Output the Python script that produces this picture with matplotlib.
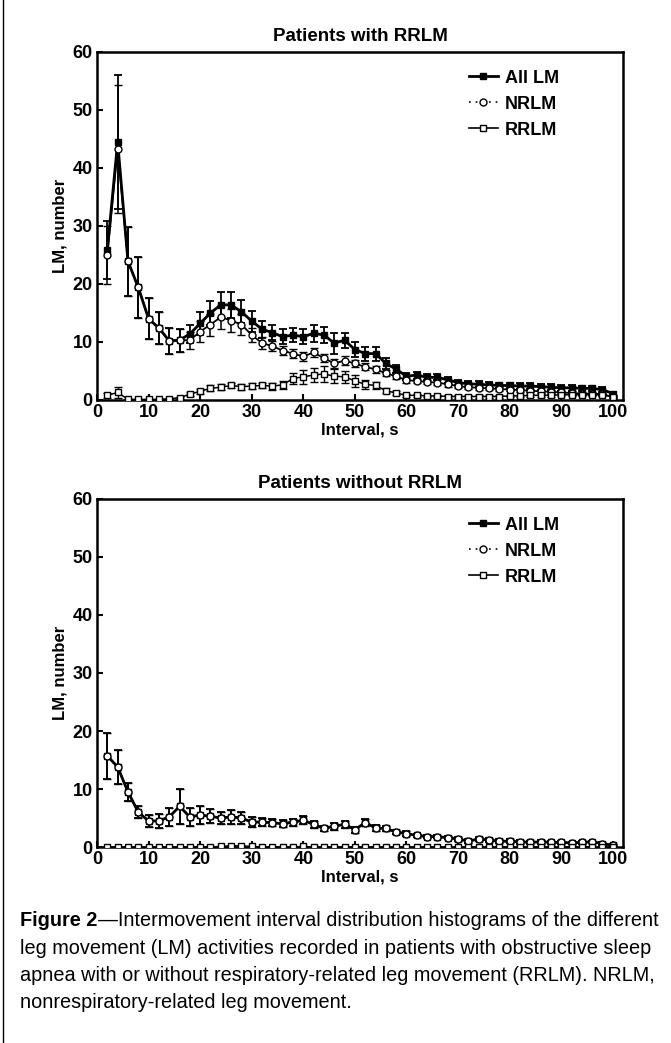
import matplotlib.pyplot as plt
from matplotlib.lines import Line2D

# intervals (2-s bins)
interval = list(range(2, 101, 2))

# Patients with RRLM
all_top = [25.9, 44.5, 23.9, 19.4, 14.0, 12.4, 10.2, 10.3, 11.4, 13.2,
           15.0, 16.4, 16.4, 15.2, 13.6, 12.2, 11.6, 10.9, 11.2, 10.9,
           11.5, 11.2, 9.8, 10.3, 8.7, 8.0, 8.0, 6.3, 5.3, 4.1,
           4.3, 3.9, 3.9, 3.5, 3.0, 2.8, 2.7, 2.6, 2.5, 2.5,
           2.4, 2.4, 2.3, 2.2, 2.1, 2.1, 2.0, 2.0, 1.8, 1.1]
all_top_err = [5.0, 11.5, 6.0, 5.3, 3.5, 2.8, 2.2, 2.0, 1.6, 2.0,
               2.1, 2.3, 2.3, 2.0, 1.8, 1.5, 1.3, 1.3, 1.2, 1.3,
               1.5, 1.4, 1.8, 1.3, 1.3, 1.2, 1.2, 0.9, 0.7, 0.6,
               0.6, 0.5, 0.5, 0.5, 0.5, 0.5, 0.5, 0.5, 0.5, 0.5,
               0.5, 0.5, 0.5, 0.5, 0.5, 0.5, 0.4, 0.4, 0.4, 0.3]
nrlm_top = [25.0, 43.3, 23.9, 19.4, 14.0, 12.4, 10.2, 10.3, 10.3, 11.8,
            13.0, 14.3, 13.7, 13.0, 11.2, 9.8, 9.3, 8.5, 8.0, 7.5,
            8.2, 7.2, 6.3, 6.8, 6.3, 5.7, 5.3, 4.6, 4.1, 3.4,
            3.3, 3.1, 3.0, 2.7, 2.4, 2.2, 2.1, 2.0, 1.9, 1.8,
            1.7, 1.6, 1.5, 1.4, 1.3, 1.2, 1.1, 1.1, 1.0, 0.5]
nrlm_top_err = [5.0, 11.0, 6.0, 5.3, 3.5, 2.8, 2.2, 2.0, 1.5, 1.8,
                1.9, 2.1, 2.0, 1.8, 1.2, 1.0, 0.9, 0.8, 0.8, 0.7,
                0.8, 0.7, 0.7, 0.7, 0.6, 0.6, 0.6, 0.5, 0.5, 0.4,
                0.4, 0.4, 0.4, 0.4, 0.4, 0.3, 0.3, 0.3, 0.3, 0.3,
                0.3, 0.3, 0.3, 0.3, 0.3, 0.3, 0.3, 0.3, 0.3, 0.2]
rrlm_top = [0.8, 1.3, 0.1, 0.1, 0.1, 0.1, 0.2, 0.4, 1.0, 1.5,
            2.0, 2.2, 2.5, 2.3, 2.4, 2.5, 2.4, 2.6, 3.7, 4.0,
            4.3, 4.5, 4.1, 4.0, 3.3, 2.7, 2.5, 1.6, 1.2, 0.8,
            0.8, 0.7, 0.7, 0.6, 0.6, 0.6, 0.6, 0.6, 0.6, 0.7,
            0.7, 0.8, 0.8, 0.8, 0.9, 0.9, 0.9, 0.9, 0.9, 0.6]
rrlm_top_err = [0.4, 1.0, 0.1, 0.1, 0.1, 0.1, 0.1, 0.2, 0.3, 0.4,
                0.5, 0.5, 0.5, 0.5, 0.5, 0.5, 0.6, 0.7, 1.0, 1.2,
                1.2, 1.4, 1.2, 1.0, 1.0, 0.8, 0.6, 0.4, 0.3, 0.2,
                0.2, 0.2, 0.2, 0.2, 0.2, 0.2, 0.2, 0.2, 0.2, 0.2,
                0.2, 0.2, 0.2, 0.2, 0.2, 0.2, 0.2, 0.2, 0.2, 0.2]

# Patients without RRLM
all_bot = [15.7, 13.8, 9.5, 6.0, 4.5, 4.5, 5.2, 7.0, 5.2, 5.5,
           5.3, 5.0, 5.2, 5.0, 4.3, 4.3, 4.2, 4.0, 4.3, 4.6,
           3.9, 3.2, 3.6, 3.9, 3.0, 4.2, 3.3, 3.2, 2.6, 2.3,
           2.0, 1.8, 1.8, 1.6, 1.4, 1.0, 1.4, 1.2, 1.0, 1.0,
           0.9, 0.8, 0.9, 0.8, 0.8, 0.7, 0.8, 0.9, 0.6, 0.3]
all_bot_err = [4.0, 3.0, 1.5, 1.0, 1.0, 1.2, 1.5, 3.0, 1.5, 1.5,
               1.2, 1.0, 1.2, 1.0, 0.8, 0.7, 0.6, 0.6, 0.6, 0.7,
               0.6, 0.5, 0.6, 0.6, 0.5, 0.6, 0.5, 0.5, 0.4, 0.4,
               0.3, 0.3, 0.3, 0.3, 0.3, 0.3, 0.3, 0.3, 0.3, 0.3,
               0.3, 0.3, 0.3, 0.3, 0.3, 0.2, 0.2, 0.2, 0.2, 0.2]
nrlm_bot = [15.7, 13.8, 9.5, 6.0, 4.5, 4.5, 5.2, 7.0, 5.2, 5.5,
            5.3, 5.0, 5.2, 5.0, 4.3, 4.3, 4.2, 4.0, 4.3, 4.6,
            3.9, 3.2, 3.6, 3.9, 3.0, 4.2, 3.3, 3.2, 2.6, 2.3,
            2.0, 1.8, 1.8, 1.6, 1.4, 1.0, 1.4, 1.2, 1.0, 1.0,
            0.9, 0.8, 0.9, 0.8, 0.8, 0.7, 0.8, 0.9, 0.6, 0.3]
rrlm_bot = [0.0, 0.0, 0.0, 0.0, 0.0, 0.0, 0.0, 0.0, 0.0, 0.0,
            0.0, 0.1, 0.2, 0.2, 0.1, 0.0, 0.0, 0.0, 0.0, 0.1,
            0.0, 0.0, 0.0, 0.0, 0.0, 0.0, 0.0, 0.0, 0.0, 0.0,
            0.0, 0.0, 0.0, 0.0, 0.0, 0.0, 0.0, 0.0, 0.0, 0.0,
            0.0, 0.0, 0.0, 0.0, 0.0, 0.0, 0.0, 0.0, 0.0, 0.0]

plt.rcParams['font.family'] = ['Liberation Sans', 'DejaVu Sans']

fig = plt.figure(figsize=(6.71, 10.43), dpi=100)
ax1 = fig.add_axes([0.1446, 0.6165, 0.784, 0.3337])
ax2 = fig.add_axes([0.1446, 0.1879, 0.784, 0.3337])

def draw(ax, title, a, ae, n, ne, r, re):
    ax.errorbar(interval, a, yerr=ae, color='black', lw=2, marker='s', ms=5,
                mfc='black', mec='black', capsize=3, elinewidth=1.3, capthick=1.3, zorder=2)
    ax.errorbar(interval, n, yerr=ne, color='black', lw=1.3, marker='o', ms=5,
                mfc='white', mec='black', mew=1, capsize=3, elinewidth=1.1, capthick=1.1, zorder=3)
    ax.errorbar(interval, r, yerr=re, color='black', lw=1.1, marker='s', ms=5,
                mfc='white', mec='black', mew=1, capsize=3, elinewidth=1.0, capthick=1.0, zorder=4)
    ax.set_xlim(0, 102)
    ax.set_ylim(0, 60)
    ax.set_xticks(range(0, 101, 10))
    ax.set_yticks(range(0, 61, 10))
    ax.tick_params(direction='in', length=4, width=1.5, labelsize=13, pad=3)
    for lab in ax.get_xticklabels() + ax.get_yticklabels():
        lab.set_fontweight('bold')
    for sp in ax.spines.values():
        sp.set_linewidth(1.8)
    ax.set_title(title, fontsize=13.5, fontweight='bold', pad=8)
    ax.set_xlabel('Interval, s', fontsize=12, fontweight='bold', labelpad=1)
    ax.set_ylabel('LM, number', fontsize=12, fontweight='bold', labelpad=4)
    handles = [
        Line2D([], [], color='black', lw=2, marker='s', ms=4, mfc='black'),
        Line2D([], [], color='black', lw=1.2, ls=(0, (1, 3)), marker='o', ms=5, mfc='white'),
        Line2D([], [], color='black', lw=1.2, marker='s', ms=5, mfc='white'),
    ]
    ax.legend(handles, ['All LM', 'NRLM', 'RRLM'], loc='upper left',
              bbox_to_anchor=(0.69, 0.975), frameon=False, handlelength=1.6,
              handletextpad=0.4, labelspacing=0.5, borderpad=0,
              prop={'weight': 'bold', 'size': 13})

draw(ax1, 'Patients with RRLM', all_top, all_top_err, nrlm_top, nrlm_top_err,
     rrlm_top, rrlm_top_err)
draw(ax2, 'Patients without RRLM', all_bot, all_bot_err, nrlm_bot, all_bot_err,
     rrlm_bot, [0.05] * len(interval))

# left frame line of the figure box
fig.add_artist(Line2D([0.005, 0.005], [0, 1], color='black', lw=1, transform=fig.transFigure))

# caption
cap_font = ['Liberation Sans Narrow', 'Liberation Sans', 'DejaVu Sans']
cap_size = 14.3
t = fig.text(0.03, 0.112, 'Figure 2', fontsize=cap_size, fontweight='bold',
             family=cap_font, va='baseline')
plt.annotate('\u2014Intermovement interval distribution histograms of the different',
             xy=(1, 0), xycoords=t, va='bottom', ha='left', fontsize=cap_size,
             family=cap_font)
lines = ['leg movement (LM) activities recorded in patients with obstructive sleep',
         'apnea with or without respiratory-related leg movement (RRLM). NRLM,',
         'nonrespiratory-related leg movement.']
for i, line in enumerate(lines):
    fig.text(0.03, 0.112 - (i + 1) * 0.0262, line, fontsize=cap_size,
             family=cap_font, va='baseline')

fig.savefig('out.png', dpi=100)
